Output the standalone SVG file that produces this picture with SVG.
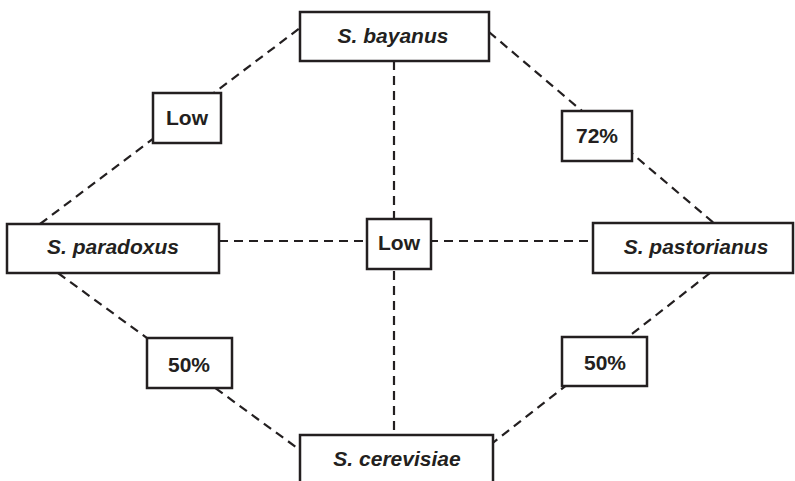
<svg xmlns="http://www.w3.org/2000/svg" width="795" height="481" viewBox="0 0 795 481">
<style>
.bg{fill:#ffffff}
.box{fill:#ffffff;stroke:#231f20;stroke-width:2.5}
.con{stroke:#231f20;stroke-width:2.2;stroke-dasharray:9,6;fill:none}
.sp{font-family:"Liberation Sans",Arial,sans-serif;font-size:21px;font-weight:bold;font-style:italic;fill:#231f20;text-anchor:middle}
.lb{font-family:"Liberation Sans",Arial,sans-serif;font-size:21px;font-weight:bold;fill:#231f20;text-anchor:middle}
</style>
<rect class="bg" x="0" y="0" width="795" height="481"/>
<g id="connectors">
<line class="con" x1="40" y1="224" x2="300" y2="28"/>
<line class="con" x1="489" y1="32" x2="715" y2="224"/>
<line class="con" x1="58" y1="273" x2="300" y2="450"/>
<line class="con" x1="710" y1="273" x2="490" y2="445"/>
<line class="con" x1="394" y1="61" x2="394" y2="435"/>
<line class="con" x1="219" y1="241" x2="593" y2="241"/>
</g>
<g id="bayanus"><rect class="box" x="300" y="12" width="189" height="49"/><text class="sp" x="393" y="43">S. bayanus</text></g>
<g id="paradoxus"><rect class="box" x="7" y="224" width="212" height="49"/><text class="sp" x="113" y="254">S. paradoxus</text></g>
<g id="pastorianus"><rect class="box" x="593" y="223" width="200" height="50"/><text class="sp" x="696" y="254">S. pastorianus</text></g>
<g id="cerevisiae"><rect class="box" x="300" y="435" width="193" height="60"/><text class="sp" x="397" y="466">S. cerevisiae</text></g>
<g id="low-left"><rect class="box" x="153" y="93" width="68" height="50"/><text class="lb" x="187" y="125">Low</text></g>
<g id="pct72"><rect class="box" x="562" y="111" width="70" height="50"/><text class="lb" x="597" y="143">72%</text></g>
<g id="low-center"><rect class="box" x="367" y="219" width="64" height="50"/><text class="lb" x="399" y="250">Low</text></g>
<g id="pct50-left"><rect class="box" x="147" y="338" width="85" height="50"/><text class="lb" x="189" y="372">50%</text></g>
<g id="pct50-right"><rect class="box" x="562" y="337" width="85" height="49"/><text class="lb" x="605" y="370">50%</text></g>
</svg>
